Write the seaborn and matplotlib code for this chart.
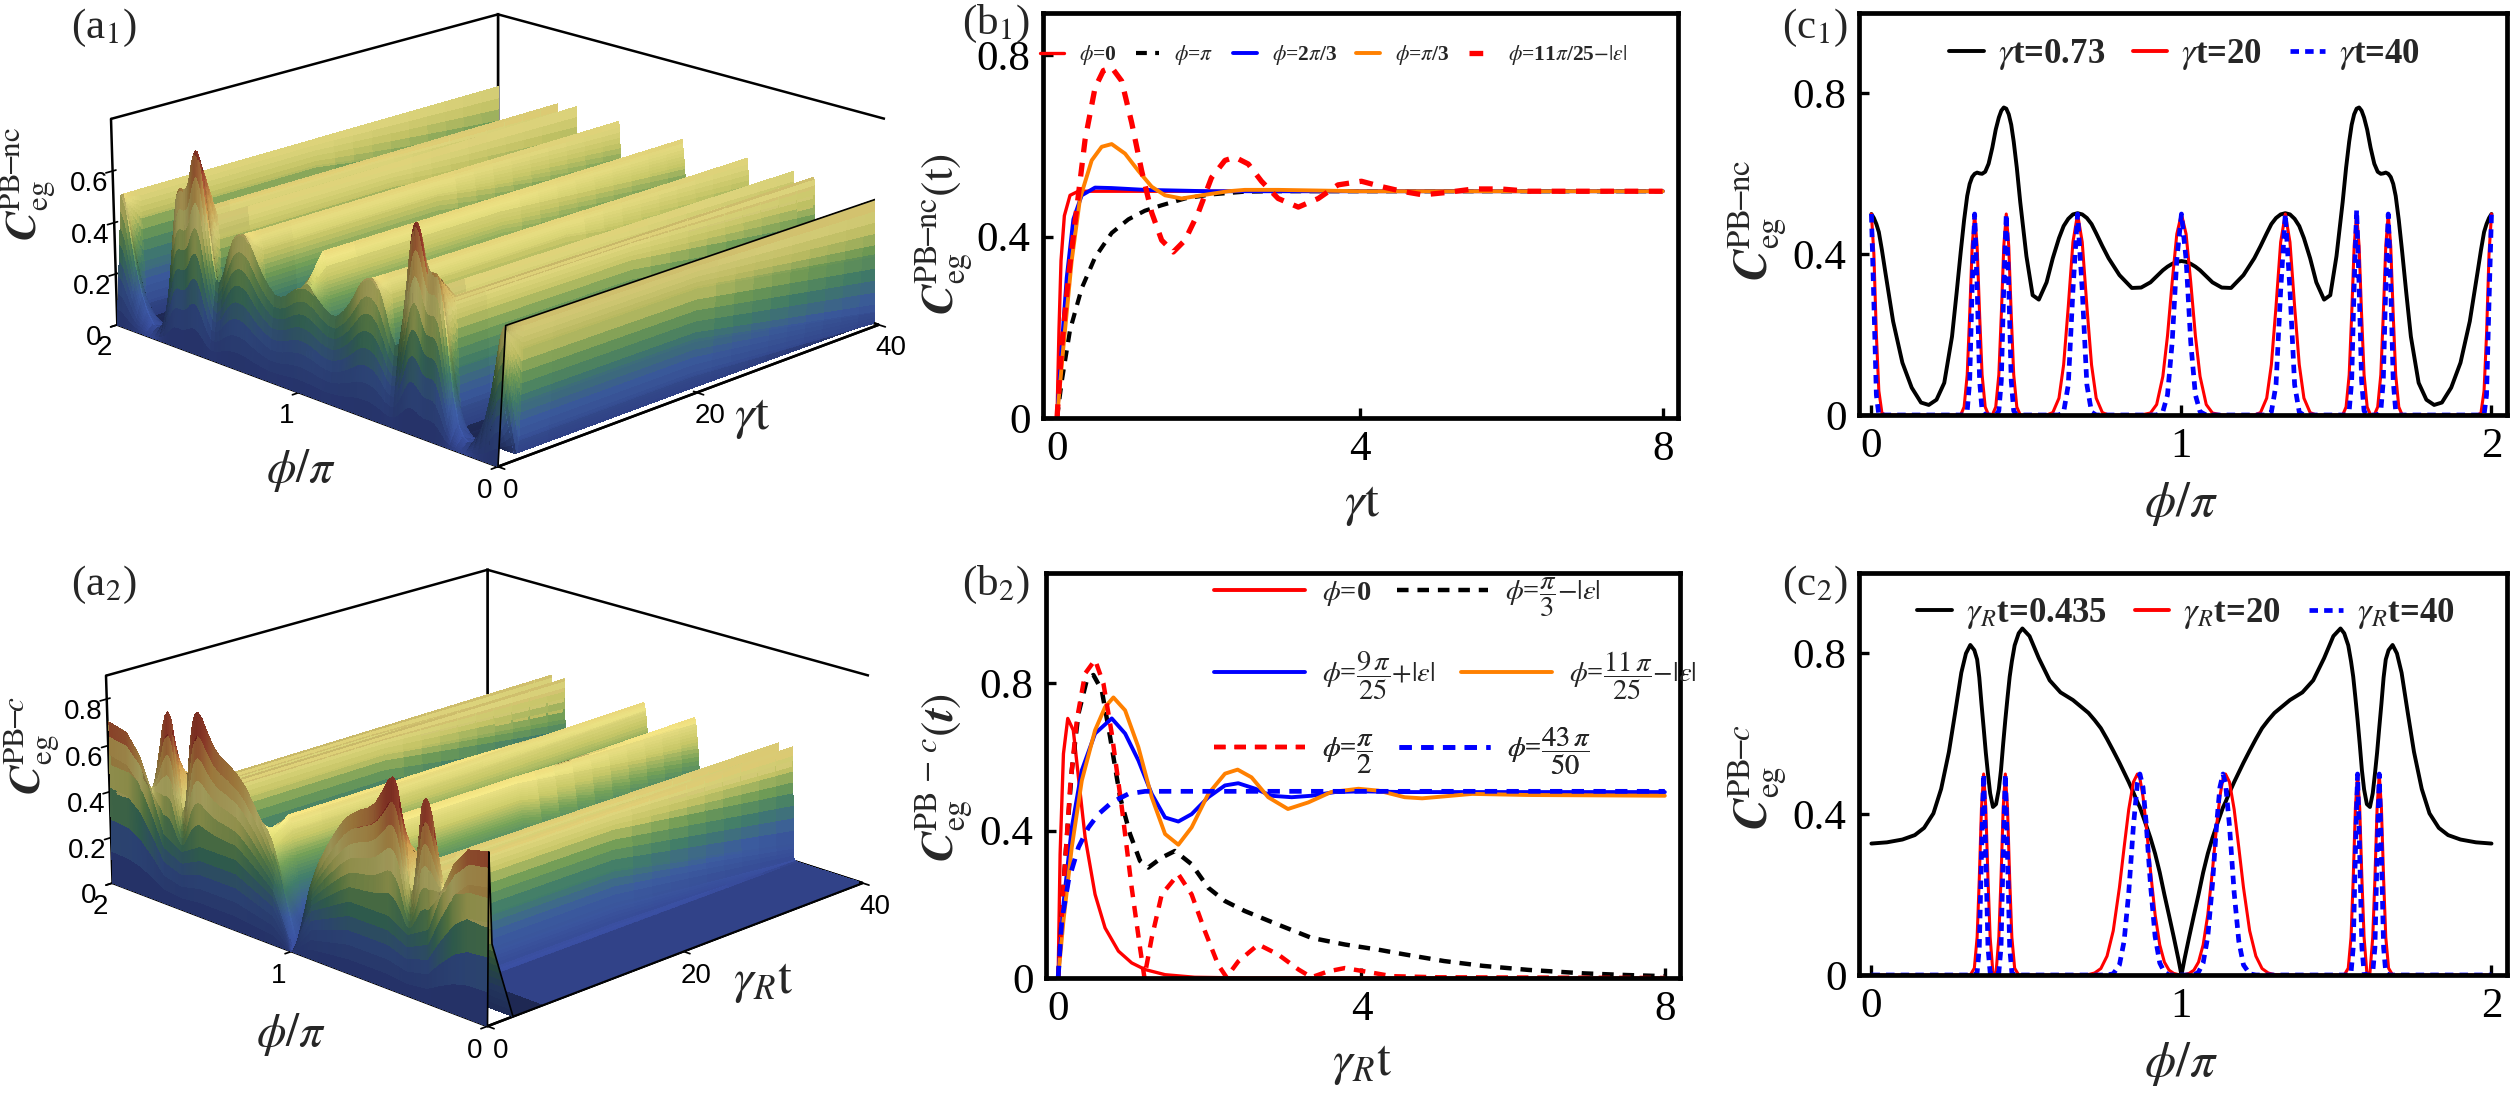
import numpy as np
import pandas as pd
import matplotlib
matplotlib.use('Agg')
import matplotlib.pyplot as plt
import seaborn as sns
from matplotlib.colors import LinearSegmentedColormap
from matplotlib.lines import Line2D
from matplotlib.mathtext import MathTextParser
from mpl_toolkits.mplot3d import proj3d

# ------------------------------------------------------------------ data
# (b1)  C_eg^{PB-nc}(t) versus gamma t
b1_t_phi0 = [0, 0.026, 0.053, 0.097, 0.172, 0.282, 0.5, 8.0]
b1_c_phi0 = [0, 0.194, 0.347, 0.446, 0.491, 0.5, 0.5, 0.5]
b1_t_pi = [0, 0.062, 0.172, 0.326, 0.502, 0.722, 0.942, 1.16, 1.38, 1.69, 2.04, 2.48, 2.92, 4.0, 8.0]
b1_c_pi = [0, 0.08, 0.194, 0.286, 0.354, 0.408, 0.438, 0.457, 0.469, 0.484, 0.493, 0.499, 0.5, 0.5, 0.5]
b1_t_2pi3 = [0, 0.062, 0.128, 0.216, 0.326, 0.502, 0.722, 1.16, 2.0, 8.0]
b1_c_2pi3 = [0, 0.156, 0.309, 0.438, 0.491, 0.508, 0.507, 0.503, 0.5, 0.5]
b1_t_pi3 = [0, 0.084, 0.194, 0.304, 0.458, 0.59, 0.722, 0.898, 1.074, 1.25, 1.426, 1.646, 1.91, 2.26,
            2.48, 2.92, 4.0, 8.0]
b1_c_pi3 = [0, 0.156, 0.347, 0.484, 0.568, 0.598, 0.604, 0.583, 0.545, 0.51, 0.491, 0.484, 0.491, 0.5,
            0.503, 0.503, 0.5, 0.5]
b1_t_11pi25 = [0, 0.062, 0.15, 0.26, 0.37, 0.502, 0.612, 0.722, 0.854, 0.986, 1.118, 1.25, 1.382, 1.536,
               1.69, 1.866, 2.04, 2.218, 2.35, 2.526, 2.7, 2.92, 3.186, 3.45, 3.71, 4.02, 4.29, 4.55,
               4.83, 5.13, 5.5, 5.86, 6.23, 7.0, 8.0]
b1_c_11pi25 = [0, 0.156, 0.309, 0.461, 0.613, 0.728, 0.766, 0.773, 0.743, 0.651, 0.545, 0.453, 0.392,
               0.366, 0.392, 0.453, 0.53, 0.568, 0.575, 0.56, 0.522, 0.484, 0.465, 0.484, 0.514, 0.522,
               0.51, 0.5, 0.492, 0.497, 0.505, 0.505, 0.5, 0.5, 0.5]

# (b2)  C_eg^{PB-c}(t) versus gamma_R t
b2_t_phi0 = [0, 0.026, 0.07, 0.127, 0.2, 0.268, 0.356, 0.487, 0.619, 0.795, 0.97, 1.146, 1.41, 1.8, 2.5, 8.0]
b2_c_phi0 = [0, 0.336, 0.609, 0.705, 0.673, 0.545, 0.382, 0.227, 0.136, 0.073, 0.041, 0.023, 0.009,
             0.002, 0, 0]
b2_t_pi3 = [0, 0.092, 0.18, 0.268, 0.378, 0.465, 0.575, 0.685, 0.817, 0.948, 1.08, 1.19, 1.366, 1.54,
            1.76, 1.98, 2.2, 2.46, 2.9, 3.34, 3.78, 4.22, 4.57, 5.09, 5.6, 6.2, 6.94, 7.5, 8.0]
b2_c_pi3 = [0, 0.318, 0.564, 0.718, 0.809, 0.823, 0.782, 0.655, 0.491, 0.391, 0.318, 0.3, 0.327, 0.345,
            0.309, 0.245, 0.209, 0.182, 0.145, 0.109, 0.091, 0.077, 0.064, 0.046, 0.033, 0.022, 0.0125,
            0.008, 0.005]
b2_t_9pi25 = [0, 0.07, 0.18, 0.312, 0.487, 0.707, 0.883, 1.058, 1.234, 1.41, 1.585, 1.76, 1.98, 2.2,
              2.375, 2.6, 2.81, 3.08, 3.34, 3.65, 4.0, 4.57, 5.5, 8.0]
b2_c_9pi25 = [0, 0.2, 0.409, 0.564, 0.664, 0.705, 0.664, 0.591, 0.5, 0.436, 0.425, 0.445, 0.491, 0.523,
              0.529, 0.514, 0.495, 0.491, 0.495, 0.505, 0.507, 0.505, 0.505, 0.505]
b2_t_11pi25 = [0, 0.07, 0.18, 0.312, 0.487, 0.619, 0.729, 0.883, 1.058, 1.234, 1.41, 1.585, 1.76, 1.98,
               2.2, 2.367, 2.55, 2.77, 3.03, 3.3, 3.6, 3.96, 4.22, 4.57, 4.8, 5.46, 6.2, 8.0]
b2_c_11pi25 = [0, 0.155, 0.355, 0.536, 0.673, 0.736, 0.762, 0.727, 0.627, 0.491, 0.391, 0.362, 0.409,
               0.5, 0.555, 0.566, 0.545, 0.491, 0.459, 0.477, 0.505, 0.514, 0.509, 0.491, 0.488, 0.5,
               0.497, 0.495]
b2_t_pi2 = [0, 0.07, 0.158, 0.246, 0.356, 0.487, 0.597, 0.707, 0.839, 0.97, 1.08, 1.137, 1.234, 1.366,
            1.585, 1.76, 1.936, 2.11, 2.22, 2.375, 2.64, 2.9, 3.17, 3.34, 3.56, 3.78, 4.04, 4.4, 5.0, 8.0]
b2_c_pi2 = [0, 0.245, 0.518, 0.7, 0.827, 0.864, 0.8, 0.664, 0.464, 0.245, 0.082, 0.002, 0.109, 0.227,
            0.282, 0.227, 0.127, 0.036, 0.002, 0.045, 0.091, 0.064, 0.023, 0.002, 0.018, 0.027, 0.018,
            0.005, 0.002, 0]
b2_t_43pi50 = [0, 0.048, 0.136, 0.268, 0.4, 0.531, 0.707, 0.926, 1.146, 8.0]
b2_c_43pi50 = [0, 0.155, 0.264, 0.355, 0.409, 0.445, 0.477, 0.5, 0.507, 0.507]

# (c1)  C_eg^{PB-nc} versus phi/pi at gamma t = 0.73, 20, 40
c1_phi = [0, 0.008, 0.016, 0.024, 0.034, 0.045, 0.07, 0.1, 0.13, 0.16, 0.185, 0.21, 0.235, 0.26, 0.275,
          0.288, 0.299, 0.309, 0.317, 0.325, 0.333, 0.341, 0.349, 0.357, 0.367, 0.378, 0.39, 0.401,
          0.411, 0.419, 0.427, 0.435, 0.443, 0.451, 0.459, 0.469, 0.48, 0.5, 0.52, 0.54, 0.565, 0.585,
          0.605, 0.62, 0.635, 0.65, 0.665, 0.68, 0.695, 0.71, 0.725, 0.745, 0.765, 0.8, 0.84, 0.87, 0.9,
          0.92, 0.94, 0.955, 0.97, 0.985, 1.0,
          1.015, 1.03, 1.045, 1.06, 1.08, 1.1, 1.13, 1.16, 1.2, 1.235, 1.255, 1.275, 1.29, 1.305, 1.32,
          1.335, 1.35, 1.365, 1.38, 1.395, 1.415, 1.435, 1.46, 1.48, 1.5, 1.52, 1.531, 1.541, 1.549,
          1.557, 1.565, 1.573, 1.581, 1.589, 1.599, 1.61, 1.622, 1.633, 1.643, 1.651, 1.659, 1.667,
          1.675, 1.683, 1.691, 1.701, 1.712, 1.725, 1.74, 1.765, 1.79, 1.815, 1.84, 1.87, 1.9, 1.93,
          1.955, 1.966, 1.976, 1.984, 1.992, 2.0]
c1_t073 = [0.5, 0.49, 0.475, 0.455, 0.41, 0.355, 0.233, 0.13, 0.068, 0.031, 0.025, 0.038, 0.08, 0.195,
           0.305, 0.405, 0.485, 0.545, 0.575, 0.592, 0.6, 0.603, 0.601, 0.6, 0.605, 0.625, 0.665, 0.71,
           0.74, 0.757, 0.765, 0.762, 0.748, 0.722, 0.68, 0.615, 0.53, 0.395, 0.298, 0.287, 0.33, 0.39,
           0.44, 0.47, 0.488, 0.499, 0.502, 0.499, 0.49, 0.475, 0.452, 0.42, 0.39, 0.348, 0.316, 0.317,
           0.33, 0.345, 0.36, 0.369, 0.376, 0.381, 0.383,
           0.381, 0.376, 0.369, 0.36, 0.345, 0.33, 0.317, 0.316, 0.348, 0.39, 0.42, 0.452, 0.475, 0.49,
           0.499, 0.502, 0.499, 0.488, 0.47, 0.44, 0.39, 0.33, 0.287, 0.298, 0.395, 0.53, 0.615, 0.68,
           0.722, 0.748, 0.762, 0.765, 0.757, 0.74, 0.71, 0.665, 0.625, 0.605, 0.6, 0.601, 0.603, 0.6,
           0.592, 0.575, 0.545, 0.485, 0.405, 0.305, 0.195, 0.08, 0.038, 0.025, 0.031, 0.068, 0.13,
           0.233, 0.355, 0.41, 0.455, 0.475, 0.49, 0.5]
c1_t20 = ([0.5, 0.40, 0.20, 0.06, 0.005, 0] + [0] * 10 +
          [0.02, 0.10, 0.25, 0.42, 0.5, 0.42, 0.25, 0.10, 0.02, 0, 0, 0.02, 0.10, 0.25, 0.42, 0.5, 0.42,
           0.25, 0.10, 0.02, 0, 0, 0, 0, 0, 0.006, 0.042, 0.125, 0.27, 0.43, 0.5, 0.43, 0.27, 0.125,
           0.042, 0.006, 0, 0, 0, 0, 0.005, 0.026, 0.096, 0.197, 0.33, 0.45, 0.5] +
          [0.45, 0.33, 0.197, 0.096, 0.026, 0.005, 0, 0, 0, 0, 0.006, 0.042, 0.125, 0.27, 0.43, 0.5, 0.43,
           0.27, 0.125, 0.042, 0.006, 0, 0, 0, 0, 0, 0.02, 0.10, 0.25, 0.42, 0.5, 0.42, 0.25, 0.10, 0.02,
           0, 0, 0.02, 0.10, 0.25, 0.42, 0.5, 0.42, 0.25, 0.10, 0.02] + [0] * 10 +
          [0, 0.005, 0.06, 0.20, 0.40, 0.5])
c1_t40 = ([0.5, 0.28, 0.05, 0, 0, 0] + [0] * 11 + [0.01, 0.085, 0.32, 0.5, 0.32, 0.085, 0.01] +
          [0] * 4 + [0.01, 0.085, 0.32, 0.5, 0.32, 0.085, 0.01] + [0] * 8 +
          [0.007, 0.075, 0.31, 0.5, 0.31, 0.075, 0.007] + [0] * 8 + [0.008, 0.05, 0.18, 0.387, 0.5] +
          [0.387, 0.18, 0.05, 0.008] + [0] * 8 + [0.007, 0.075, 0.31, 0.5, 0.31, 0.075, 0.007] +
          [0] * 8 + [0.01, 0.085, 0.32, 0.51, 0.32, 0.085, 0.01] + [0] * 4 +
          [0.01, 0.085, 0.32, 0.5, 0.32, 0.085, 0.01] + [0] * 11 + [0, 0, 0, 0.05, 0.28, 0.5])

# (c2)  C_eg^{PB-c} versus phi/pi at gamma_R t = 0.435, 20, 40
c2_phi = [0, 0.05, 0.1, 0.14, 0.17, 0.2, 0.225, 0.25, 0.27, 0.29, 0.305, 0.319, 0.332, 0.341, 0.348,
          0.355, 0.362, 0.369, 0.376, 0.383, 0.392, 0.402, 0.411, 0.418, 0.425, 0.432, 0.439, 0.446,
          0.453, 0.462, 0.475, 0.487, 0.51, 0.54, 0.575, 0.61, 0.65, 0.7, 0.72, 0.74, 0.76, 0.78, 0.8,
          0.815, 0.83, 0.845, 0.858, 0.866, 0.876, 0.886, 0.9, 0.915, 0.93, 0.945, 0.96, 0.975, 0.99, 1.0,
          1.01, 1.025, 1.04, 1.055, 1.07, 1.085, 1.1, 1.114, 1.124, 1.134, 1.142, 1.155, 1.17, 1.185,
          1.2, 1.22, 1.24, 1.26, 1.28, 1.3, 1.35, 1.39, 1.425, 1.46, 1.49, 1.513, 1.525, 1.538, 1.547,
          1.554, 1.561, 1.568, 1.575, 1.582, 1.589, 1.598, 1.608, 1.617, 1.624, 1.631, 1.638, 1.645,
          1.652, 1.659, 1.668, 1.681, 1.695, 1.71, 1.73, 1.75, 1.775, 1.8, 1.83, 1.86, 1.9, 1.95, 2.0]
c2_t0435 = [0.327, 0.33, 0.337, 0.348, 0.366, 0.402, 0.463, 0.555, 0.652, 0.752, 0.8, 0.821, 0.808,
            0.785, 0.74, 0.675, 0.615, 0.553, 0.5, 0.452, 0.418, 0.425, 0.462, 0.51, 0.575, 0.635, 0.69,
            0.742, 0.78, 0.82, 0.85, 0.862, 0.843, 0.788, 0.733, 0.703, 0.684, 0.652, 0.634, 0.614,
            0.587, 0.558, 0.528, 0.504, 0.48, 0.454, 0.43, 0.417, 0.395, 0.373, 0.341, 0.302, 0.255,
            0.2, 0.148, 0.095, 0.04, 0.0,
            0.04, 0.095, 0.148, 0.2, 0.255, 0.302, 0.341, 0.373, 0.395, 0.417, 0.43, 0.454, 0.48, 0.504,
            0.528, 0.558, 0.587, 0.614, 0.634, 0.652, 0.684, 0.703, 0.733, 0.788, 0.843, 0.862, 0.85,
            0.82, 0.78, 0.742, 0.69, 0.635, 0.575, 0.51, 0.462, 0.425, 0.418, 0.452, 0.5, 0.553, 0.615,
            0.675, 0.74, 0.785, 0.808, 0.821, 0.8, 0.752, 0.652, 0.555, 0.463, 0.402, 0.366, 0.348,
            0.337, 0.33, 0.327]
c2_t20 = ([0] * 12 + [0.017, 0.094, 0.24, 0.415, 0.5, 0.415, 0.24, 0.094, 0.005, 0.005, 0.094, 0.24,
                      0.415, 0.5, 0.415, 0.24, 0.094, 0.017] + [0] * 7 +
          [0.001, 0.005, 0.016, 0.047, 0.11, 0.218, 0.317, 0.412, 0.48, 0.5, 0.489, 0.444, 0.375, 0.26,
           0.15, 0.075, 0.032, 0.012, 0.004, 0.001, 0] +
          [0.001, 0.004, 0.012, 0.032, 0.075, 0.15, 0.26, 0.375, 0.444, 0.489, 0.5, 0.48, 0.412, 0.317,
           0.218, 0.11, 0.047, 0.016, 0.005, 0.001] + [0] * 7 +
          [0.017, 0.094, 0.24, 0.415, 0.5, 0.415, 0.24, 0.094, 0.005, 0.005, 0.094, 0.24, 0.415, 0.5,
           0.415, 0.24, 0.094, 0.017] + [0] * 12)
c2_t40 = ([0] * 13 + [0.006, 0.068, 0.3, 0.5, 0.3, 0.068, 0.006] + [0, 0] +
          [0.006, 0.068, 0.3, 0.5, 0.3, 0.068, 0.006] + [0] * 12 +
          [0.003, 0.025, 0.084, 0.205, 0.37, 0.478, 0.5, 0.467, 0.38, 0.226, 0.096, 0.03, 0.007] +
          [0] * 4 + [0] * 3 +
          [0.007, 0.03, 0.096, 0.226, 0.38, 0.467, 0.5, 0.478, 0.37, 0.205, 0.084, 0.025, 0.003] +
          [0] * 12 + [0.006, 0.068, 0.3, 0.5, 0.3, 0.068, 0.006] + [0, 0] +
          [0.006, 0.068, 0.3, 0.5, 0.3, 0.068, 0.006] + [0] * 13)

# (a2) early-time front profile of the surface (gamma_R t ~ 0.13)
a2_early_phi = [0, 0.1, 0.17, 0.24, 0.3, 0.4, 0.5, 0.7, 0.9, 1.0, 1.1, 1.3, 1.5, 1.6, 1.7, 1.76, 1.83,
                1.9, 2.0]
a2_early_val = [0.70, 0.68, 0.6, 0.45, 0.3, 0.25, 0.3, 0.3, 0.2, 0.0, 0.2, 0.3, 0.3, 0.25, 0.3, 0.45,
                0.6, 0.68, 0.70]
a2_early_t = 0.13
settle_t = 2.5

# ------------------------------------------------------------------ style
sns.set_theme(style='white')
plt.rcParams['font.family'] = ['Liberation Serif', 'DejaVu Serif']
plt.rcParams['mathtext.fontset'] = 'stix'
plt.rcParams['axes.unicode_minus'] = True


def _ok(tex):
    try:
        MathTextParser('path').parse(tex)
        return True
    except Exception:
        return False


BF = r'\boldsymbol' if _ok(r'$\boldsymbol{C}$') else r'\mathbf'
CC = BF + '{C}'
FR = r'\dfrac' if _ok(r'$\dfrac{\pi}{3}$') else r'\frac'

RED, BLUE, ORANGE, BLACK = '#ff0000', '#0000ff', '#ff8000', '#000000'
W, H = 2510, 1111
fig = plt.figure(figsize=(W / 100, H / 100), dpi=100)
fig.patch.set_facecolor('white')


def rect(l, t, r, b):
    return [l / W, 1 - b / H, (r - l) / W, (b - t) / H]


def fig_text(x, y, s, **kw):
    fig.text(x / W, 1 - y / H, s, ha=kw.pop('ha', 'center'), va=kw.pop('va', 'center'), **kw)


def hide_titles(ax):
    for t in (ax.title, ax._left_title, ax._right_title):
        t.set_text('')
        t.set_visible(False)


# ------------------------------------------------------------------ 3D surfaces (a1), (a2)
cmap_dr = LinearSegmentedColormap.from_list('darkrainbow', [
    (0.0, '#3b50a5'), (0.15, '#4468b5'), (0.28, '#4a8f78'), (0.38, '#80b262'), (0.47, '#dcdc72'),
    (0.55, '#faf08c'), (0.7, '#f0b65a'), (0.84, '#d2583c'), (1.0, '#a82828')])
AZIM = -135


def box_disp(ax):
    """Display-pixel positions of the 8 corners of the 3D box."""
    x0, x1 = ax.get_xlim3d()
    y0, y1 = ax.get_ylim3d()
    z0, z1 = ax.get_zlim3d()
    X = np.array([x0, x1, x0, x1, x0, x1, x0, x1])
    Y = np.array([y0, y0, y1, y1, y0, y0, y1, y1])
    Z = np.array([z0, z0, z0, z0, z1, z1, z1, z1])
    xs, ys, _ = proj3d.proj_transform(X, Y, Z, ax.get_proj())
    return ax.transData.transform(np.c_[xs, ys])


def setup3d(zmax, zticks, corners):
    """corners: picture-pixel positions (x, y from top) of the reference box corners:
    left-bottom, left-top, back-top, right-top, right-bottom, front-bottom"""
    c = np.array(corners, float)
    tl, tr = c[:, 0].min(), c[:, 0].max()
    tt, tb = c[:, 1].min(), c[:, 1].max()
    ax = fig.add_axes([0.05, 0.05, 0.3, 0.3 * W / H], projection='3d')
    hide_titles(ax)
    ax.set_xlim(0, 40)
    ax.set_ylim(0, 2)
    ax.set_zlim(0, zmax)
    ax.set_box_aspect((1, 1, 0.42))
    ax.view_init(elev=20, azim=AZIM)
    fig.canvas.draw()
    r_h = (tb - tt) / (tr - tl)
    r_s = (c[0, 1] - c[1, 1]) / (tr - tl)
    best = None
    for e in np.arange(12, 34.01, 0.5):
        for h in np.arange(0.26, 0.60, 0.01):
            ax.set_box_aspect((1, 1, h))
            ax.view_init(elev=e, azim=AZIM)
            p = box_disp(ax)
            w = p[:, 0].max() - p[:, 0].min()
            err = ((p[:, 1].max() - p[:, 1].min()) / w - r_h) ** 2 + ((p[6, 1] - p[2, 1]) / w - r_s) ** 2
            if best is None or err < best[0]:
                best = (err, e, h)
    _, elev, h = best
    ax.set_box_aspect((1, 1, h))
    ax.view_init(elev=elev, azim=AZIM)
    S, cx, cy = 700.0, (tl + tr) / 2, H - (tt + tb) / 2
    for _ in range(4):
        ax.set_position([(cx - S / 2) / W, (cy - S / 2) / H, S / W, S / H])
        fig.canvas.draw()
        p = box_disp(ax)
        bw = p[:, 0].max() - p[:, 0].min()
        bcx = (p[:, 0].max() + p[:, 0].min()) / 2
        bcy = (p[:, 1].max() + p[:, 1].min()) / 2
        k = (tr - tl) / bw
        pos = ax.get_position()
        acx = (pos.x0 + pos.x1) / 2 * W
        acy = (pos.y0 + pos.y1) / 2 * H
        S = S * k
        cx = (tl + tr) / 2 - (bcx - acx) * k
        cy = H - (tt + tb) / 2 - (bcy - acy) * k
    ax.set_position([(cx - S / 2) / W, (cy - S / 2) / H, S / W, S / H])
    ax.patch.set_visible(False)
    ax.computed_zorder = False
    ax.set_xticks([0, 20, 40])
    ax.set_xticklabels(['0', '20', '40'])
    ax.set_yticks([0, 1, 2])
    ax.set_yticklabels(['0', '1', '2'])
    ax.set_zticks(zticks)
    ax.set_zticklabels(['0' if z == 0 else f'{z:g}' for z in zticks])
    for nm in ('x', 'y', 'z'):
        ax.tick_params(axis=nm, labelsize=20, pad=1, labelfontfamily='Liberation Sans', colors='black')
    ax.grid(False)
    for axis in (ax.xaxis, ax.yaxis, ax.zaxis):
        axis.set_pane_color((1, 1, 1, 1))
        axis.pane.set_edgecolor('black')
        axis.pane.set_linewidth(1.8)
        axis.line.set_color('black')
        axis.line.set_linewidth(1.8)
        axis.label.set_visible(False)
        axis.offsetText.set_visible(False)
    return ax, elev, h


def surface(ax, elev, h, profiles, row_t, nseg, zmax):
    phi_all = np.concatenate([np.asarray(p, float) for p, _ in profiles])
    phi_f = np.union1d(np.linspace(0, 2, 1201), phi_all)
    prof = np.array([np.interp(phi_f, np.asarray(p, float), np.asarray(v, float)) for p, v in profiles])
    t_f = np.concatenate([np.linspace(a, b, n, endpoint=False)
                          for a, b, n in zip(row_t[:-1], row_t[1:], nseg)] + [[row_t[-1]]])
    Z = np.empty((t_f.size, phi_f.size))
    for j in range(phi_f.size):
        Z[:, j] = np.interp(t_f, row_t, prof[:, j])
    T, P = np.meshgrid(t_f, phi_f, indexing='ij')
    xs = t_f / 40
    ys = phi_f / 2
    zs = Z / zmax * h
    gx = np.gradient(zs, xs, axis=0)
    gy = np.gradient(zs, ys, axis=1)
    n = np.stack([-gx, -gy, np.ones_like(zs)], -1)
    n /= np.linalg.norm(n, axis=-1, keepdims=True)
    e, a = np.radians(elev), np.radians(AZIM)
    view = np.array([np.cos(e) * np.cos(a), np.cos(e) * np.sin(a), np.sin(e)])
    n[(n @ view) < 0] *= -1
    L = np.array([-0.3, -0.9, 0.8])
    L /= np.linalg.norm(L)
    inten = 0.5 + 0.5 * np.clip(n @ L, 0, 1)
    fc = cmap_dr(np.clip(Z / 0.86, 0, 1))
    fc[..., :3] *= inten[..., None]
    ax.plot_surface(T, P, Z, facecolors=fc, rstride=1, cstride=1, shade=False, linewidth=0,
                    antialiased=False, zorder=1)
    # boundary line along the phi = 0 edge (nearest edge of the surface)
    ax.plot(t_f, np.zeros_like(t_f), Z[:, 0], color='black', lw=1.2, zorder=5)


A1_BOX = [(122, 319), (111, 113), (500, 13), (885, 113), (874, 319), (497, 468)]
A2_BOX = [(113, 880), (106, 675), (492, 571), (869, 681), (869, 880), (493, 1025)]
ax_a1, e1, h1 = setup3d(0.8, [0, 0.2, 0.4, 0.6], A1_BOX)
ax_a2, e2, h2 = setup3d(0.9, [0, 0.2, 0.4, 0.6, 0.8], A2_BOX)
surface(ax_a1, e1, h1, [(c1_phi, [0] * len(c1_phi)), (c1_phi, c1_t073), (c1_phi, c1_t20),
                        (c1_phi, c1_t20), (c1_phi, c1_t40)],
        [0, 0.73, settle_t, 20, 40], [8, 10, 6, 10], 0.8)
surface(ax_a2, e2, h2, [(c2_phi, [0] * len(c2_phi)), (a2_early_phi, a2_early_val), (c2_phi, c2_t0435),
                        (c2_phi, c2_t20), (c2_phi, c2_t20), (c2_phi, c2_t40)],
        [0, a2_early_t, 0.435, settle_t, 20, 40], [5, 6, 10, 6, 10], 0.9)


# ------------------------------------------------------------------ 2D panels
def style2d(ax, xlim, ylim, xt, xtl, yt, ytl):
    hide_titles(ax)
    ax.set_xlim(*xlim)
    ax.set_ylim(*ylim)
    ax.set_xticks(xt)
    ax.set_xticklabels(xtl)
    ax.set_yticks(yt)
    ax.set_yticklabels(ytl)
    ax.tick_params(direction='in', length=7, width=2.4, labelsize=31, pad=9, colors='black',
                   top=False, right=False, bottom=True, left=True, labelfontfamily='Liberation Serif')
    for s in ax.spines.values():
        s.set_visible(True)
        s.set_linewidth(3.4)
        s.set_color('black')
    ax.set_xlabel('')
    ax.set_ylabel('')
    ax.grid(False)
    ax.set_facecolor('white')


def line(ax, x, y, color, lw, ls='-'):
    sns.lineplot(x=np.asarray(x, float), y=np.asarray(y, float), ax=ax, color=color, linewidth=lw,
                 linestyle=ls, estimator=None, sort=False, legend=False)


def handle(color, lw, ls='-'):
    return Line2D([], [], color=color, lw=lw, ls=ls)


DASH = (0, (2.6, 2.0))
DASH_B = (0, (1.8, 1.3))

# (b1)
ax = fig.add_axes(rect(1043, 13, 1678, 418))
line(ax, b1_t_phi0, b1_c_phi0, RED, 2.4)
line(ax, b1_t_pi, b1_c_pi, BLACK, 3.0, DASH)
line(ax, b1_t_2pi3, b1_c_2pi3, BLUE, 2.8)
line(ax, b1_t_pi3, b1_c_pi3, ORANGE, 2.8)
line(ax, b1_t_11pi25, b1_c_11pi25, RED, 3.8, DASH)
style2d(ax, (-0.185, 8.2), (0, 0.893), [0, 4, 8], ['0', '4', '8'], [0, 0.4, 0.8], ['0', '0.4', '0.8'])
hs = [handle(RED, 2.4), handle(BLACK, 3.0, DASH), handle(BLUE, 2.8), handle(ORANGE, 2.8),
      handle(RED, 3.8, DASH)]
ls_ = [r'$\phi$=0', r'$\phi$=$\pi$', r'$\phi$=2$\pi$/3', r'$\phi$=$\pi$/3', r'$\phi$=11$\pi$/25$-|\epsilon|$']
ax.legend(hs, ls_, loc='center left', bbox_to_anchor=(-0.005, 0.896), ncol=5, frameon=False,
          prop={'weight': 'bold', 'size': 15.5}, handlelength=1.1, handletextpad=0.7, columnspacing=0.9,
          borderaxespad=0, borderpad=0)

# (b2)
ax = fig.add_axes(rect(1046, 573, 1680, 978))
line(ax, b2_t_phi0, b2_c_phi0, RED, 2.4)
line(ax, b2_t_pi3, b2_c_pi3, BLACK, 3.2, DASH)
line(ax, b2_t_9pi25, b2_c_9pi25, BLUE, 2.8)
line(ax, b2_t_11pi25, b2_c_11pi25, ORANGE, 2.8)
line(ax, b2_t_pi2, b2_c_pi2, RED, 3.2, DASH)
line(ax, b2_t_43pi50, b2_c_43pi50, BLUE, 3.4, DASH)
style2d(ax, (-0.16, 8.2), (0, 1.1), [0, 4, 8], ['0', '4', '8'], [0, 0.4, 0.8], ['0', '0.4', '0.8'])
rows = [
    ([handle(RED, 2.8), handle(BLACK, 3.2, DASH)],
     [r'$\phi$=0', r'$\phi$=$' + FR + r'{\pi}{3}$$-|\epsilon|$'], 0.94),
    ([handle(BLUE, 2.8), handle(ORANGE, 2.8)],
     [r'$\phi$=$' + FR + r'{9\,\pi}{25}$$+|\epsilon|$', r'$\phi$=$' + FR + r'{11\,\pi}{25}$$-|\epsilon|$'],
     0.746),
    ([handle(RED, 3.2, DASH), handle(BLUE, 3.4, DASH)],
     [r'$\phi$=$' + FR + r'{\pi}{2}$', r'$\phi$=$' + FR + r'{43\,\pi}{50}$'], 0.56),
]
for hh, ll, yy in rows:
    lg = ax.legend(hh, ll, loc='center left', bbox_to_anchor=(0.265, yy), ncol=2, frameon=False,
                   prop={'weight': 'bold', 'size': 20.5}, handlelength=3.2, handletextpad=0.6,
                   columnspacing=0.9, borderaxespad=0, borderpad=0)
    ax.add_artist(lg)

# (c1)
ax = fig.add_axes(rect(1859, 13, 2507, 415))
line(ax, c1_phi, c1_t073, BLACK, 2.8)
line(ax, c1_phi, c1_t20, RED, 2.2)
line(ax, c1_phi, c1_t40, BLUE, 3.4, DASH_B)
style2d(ax, (-0.04, 2.05), (0, 1.0), [0, 1, 2], ['0', '1', '2'], [0, 0.4, 0.8], ['0', '0.4', '0.8'])
ax.legend([handle(BLACK, 2.8), handle(RED, 2.8), handle(BLUE, 3.4, DASH_B)],
          [r'$\gamma$t=0.73', r'$\gamma$t=20', r'$\gamma$t=40'], loc='center left',
          bbox_to_anchor=(0.139, 0.896), ncol=3, frameon=False, prop={'weight': 'bold', 'size': 25},
          handlelength=1.0, handletextpad=0.4, columnspacing=0.8, borderaxespad=0, borderpad=0)

# (c2)
ax = fig.add_axes(rect(1859, 573, 2507, 975))
line(ax, c2_phi, c2_t0435, BLACK, 2.8)
line(ax, c2_phi, c2_t20, RED, 2.2)
line(ax, c2_phi, c2_t40, BLUE, 3.4, DASH_B)
style2d(ax, (-0.04, 2.05), (0, 1.0), [0, 1, 2], ['0', '1', '2'], [0, 0.4, 0.8], ['0', '0.4', '0.8'])
ax.legend([handle(BLACK, 2.8), handle(RED, 2.8), handle(BLUE, 3.4, DASH_B)],
          [r'$\gamma_R$t=0.435', r'$\gamma_R$t=20', r'$\gamma_R$t=40'], loc='center left',
          bbox_to_anchor=(0.09, 0.9), ncol=3, frameon=False, prop={'weight': 'bold', 'size': 25},
          handlelength=1.0, handletextpad=0.4, columnspacing=0.8, borderaxespad=0, borderpad=0)

# ------------------------------------------------------------------ labels
NC = r'_{\rm eg}^{\rm PB\!\!-\!\!nc}'
lab_nc = '$' + CC + NC + '$'
lab_c = '$' + CC + r'_{\rm eg}^{\rm PB\!\!-\!\!\mathit{c}}$'
fig_text(944, 234, '$' + CC + NC + r'(\rm t)$', rotation=90, fontsize=33)
fig_text(944, 777, '$' + CC + r'_{\rm eg}^{\rm PB\,-\,\mathit{c}}(' + BF + '{t})$', rotation=90,
         fontsize=33)
fig_text(1758, 220, lab_nc, rotation=90, fontsize=34)
fig_text(1758, 777, lab_c, rotation=90, fontsize=34)
fig_text(1362, 505, r'$\gamma\rm t$', fontsize=36)
fig_text(1362, 1064, r'$\gamma_R\rm t$', fontsize=36)
fig_text(2181, 504, r'$\phi/\pi$', fontsize=36)
fig_text(2181, 1064, r'$\phi/\pi$', fontsize=36)
# 3D axis labels
fig_text(28, 184, lab_nc, rotation=90, fontsize=32)
fig_text(32, 745, lab_c, rotation=90, fontsize=32)
fig_text(301, 470, r'$\phi/\pi$', fontsize=34)
fig_text(291, 1034, r'$\phi/\pi$', fontsize=34)
fig_text(752, 418, r'$\gamma\rm t$', fontsize=36)
fig_text(763, 982, r'$\gamma_R\rm t$', fontsize=36)
# panel tags
for x, y, s in [(71, 28, 'a'), (962, 24, 'b'), (1782, 28, 'c')]:
    fig_text(x, y, '(' + s + r'$_1$)', fontsize=31, ha='left')
for x, y, s in [(71, 585, 'a'), (962, 585, 'b'), (1782, 585, 'c')]:
    fig_text(x, y, '(' + s + r'$_2$)', fontsize=31, ha='left')

fig.savefig('out.png', dpi=100, facecolor='white')
